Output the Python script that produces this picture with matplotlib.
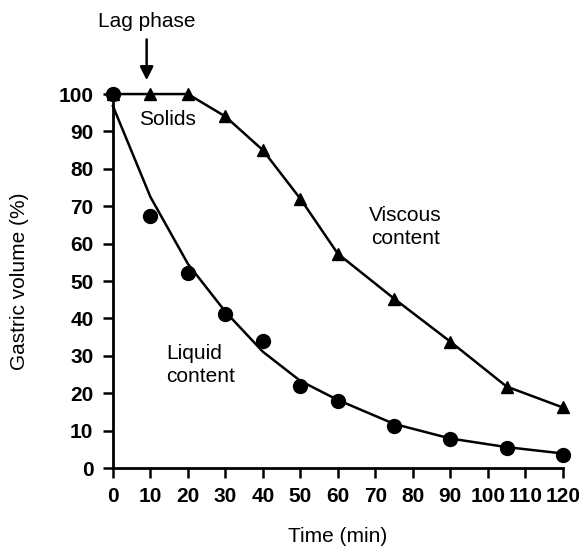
import matplotlib
matplotlib.use("Agg")
import matplotlib.pyplot as plt

plt.rcParams['font.family'] = ['Liberation Sans', 'DejaVu Sans']

# time points (min)
time = [0, 10, 20, 30, 40, 50, 60, 75, 90, 105, 120]
# viscous content (solids), gastric volume %
viscous = [100, 100, 100, 94, 85, 72, 57.3, 45.3, 33.8, 21.8, 16.2]
# liquid content measured, and the fitted curve
liquid = [100, 67.4, 52.2, 41.3, 34.0, 21.9, 17.9, 11.2, 7.9, 5.3, 3.6]
liquid_fit = [96.8, 72.5, 54.6, 41.8, 31.1, 23.3, 18.2, 11.8, 7.9, 5.6, 3.9]

xticks = list(range(0, 121, 10))
yticks = list(range(0, 101, 10))

fig = plt.figure(figsize=(5.79, 5.5), dpi=100)
ax = fig.add_axes([0.195, 0.149, 0.777, 0.68])

ax.plot(time, viscous, color='black', lw=1.8, marker='^', ms=9,
        clip_on=False, zorder=3)
ax.plot(time, liquid_fit, color='black', lw=1.8, clip_on=False, zorder=3)
ax.plot(time, liquid, ls='none', color='black', marker='o', ms=10,
        clip_on=False, zorder=4)

ax.set_xlim(0, 120)
ax.set_ylim(0, 100)
ax.set_xticks(xticks)
ax.set_yticks(yticks)
for lab in ax.get_xticklabels() + ax.get_yticklabels():
    lab.set_fontweight('bold')
    lab.set_fontsize(15)
ax.tick_params(direction='out', length=7, width=1.8, pad=7)
for s in ['top', 'right']:
    ax.spines[s].set_visible(False)
for s in ['left', 'bottom']:
    ax.spines[s].set_linewidth(2)

ax.set_xlabel('Time (min)', fontsize=15, labelpad=15)
ax.set_ylabel('Gastric volume (%)', fontsize=15, labelpad=21)

ax.text(14.5, 93.3, 'Solids', fontsize=15, ha='center', va='center')
ax.text(78, 64.5, 'Viscous\ncontent', fontsize=15, ha='center', va='center',
        linespacing=1.25)
ax.text(14.2, 27.5, 'Liquid\ncontent', fontsize=15, ha='left', va='center',
        linespacing=1.25)
ax.text(9, 119.4, 'Lag phase', fontsize=15, ha='center', va='center',
        clip_on=False)
ax.annotate('', xy=(9, 103.7), xytext=(9, 114.6), annotation_clip=False,
            arrowprops=dict(arrowstyle='-|>', color='black', lw=1.8,
                            mutation_scale=20, shrinkA=0, shrinkB=0))

fig.savefig('out.png', dpi=100)
